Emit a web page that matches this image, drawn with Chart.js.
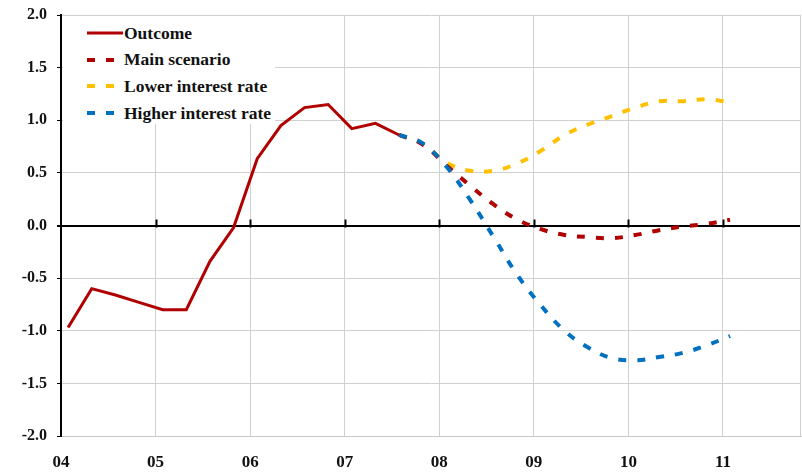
<!DOCTYPE html>
<html>
<head>
<meta charset="utf-8">
<script src="https://cdn.jsdelivr.net/npm/chart.js@4"></script>
<style>
  body { margin: 0; background: #fff; }
  #wrap { position: relative; width: 802px; height: 473px; }
  #legend {
    position: absolute; left: 63px; top: 16px; width: 212px; height: 108px;
    background: #fff; font: bold 17.5px "Liberation Serif", "Times New Roman", serif; color: #111;
  }
  #legend .item { position: absolute; left: 24px; height: 20px; display: flex; align-items: center; white-space: nowrap; }
  #legend svg { margin-right: 1px; }
</style>
</head>
<body>
<div id="wrap">
  <canvas id="chart" width="802" height="473"></canvas>
  <div id="legend"></div>
</div>
<script>
// quarterly data, 2004Q1 .. 2011Q1
const quarters = ['04Q1','04Q2','04Q3','04Q4','05Q1','05Q2','05Q3','05Q4','06Q1','06Q2','06Q3','06Q4',
  '07Q1','07Q2','07Q3','07Q4','08Q1','08Q2','08Q3','08Q4','09Q1','09Q2','09Q3','09Q4','10Q1','10Q2','10Q3','10Q4','11Q1'];
const yearLabels = ['04', '05', '06', '07', '08', '09', '10', '11'];
const yTicks = [-2.0, -1.5, -1.0, -0.5, 0.0, 0.5, 1.0, 1.5, 2.0];

const outcome = [-0.97, -0.60, -0.66, -0.73, -0.80, -0.80, -0.34, -0.02, 0.635, 0.95, 1.12, 1.15, 0.92, 0.97, 0.86];
// scenarios start at 07Q3 (index 14)
const forecastStart = 14;
const mainScenario = [0.86, 0.77, 0.57, 0.38, 0.20, 0.057, -0.035, -0.09, -0.11, -0.12, -0.09, -0.045, -0.01, 0.015, 0.055];
const lowerRate = [0.86, 0.78, 0.60, 0.52, 0.52, 0.59, 0.71, 0.86, 0.96, 1.04, 1.12, 1.18, 1.18, 1.20, 1.17];
const higherRate = [0.86, 0.78, 0.56, 0.245, -0.11, -0.47, -0.76, -1.00, -1.16, -1.26, -1.28, -1.25, -1.21, -1.14, -1.05];

const xShift = 0.3; // points sit a bit after the start of each quarter
const toPoints = (arr, start) => arr.map((v, i) => ({ x: start + i + xShift, y: v, q: quarters[start + i] }));

const dash = [8, 11];
const datasets = [
    { label: 'Outcome', data: toPoints(outcome, 0), borderColor: '#B00000', borderWidth: 3, order: 0 },
    { label: 'Main scenario', data: toPoints(mainScenario, forecastStart), borderColor: '#B00000', borderWidth: 4, borderDash: dash, tension: 0.4, order: 2 },
    { label: 'Lower interest rate', data: toPoints(lowerRate, forecastStart), borderColor: '#FFC000', borderWidth: 4, borderDash: dash, tension: 0.4, order: 3 },
    { label: 'Higher interest rate', data: toPoints(higherRate, forecastStart), borderColor: '#0070C0', borderWidth: 4, borderDash: dash, tension: 0.4, order: 1 }
];

// black tick marks on the zero line + right frame line
const extras = {
    id: 'extras',
    afterDatasetsDraw(chart) {
        const { ctx, scales } = chart;
        const y0 = scales.y.getPixelForValue(0);
        ctx.save();
        ctx.strokeStyle = '#000';
        ctx.lineWidth = 2;
        yearLabels.forEach((l, i) => {
            if (i === 0) return;
            const x = Math.round(scales.x.getPixelForValue(i * 4)) + 0.5;
            ctx.beginPath();
            ctx.moveTo(x, y0 - 6);
            ctx.lineTo(x, y0 + 2);
            ctx.stroke();
        });
        ctx.restore();
    },
    beforeDatasetsDraw(chart) {
        const { ctx, chartArea } = chart;
        ctx.save();
        ctx.strokeStyle = '#d0d0d0';
        ctx.lineWidth = 1;
        ctx.beginPath();
        ctx.moveTo(chartArea.right - 0.5, chartArea.top);
        ctx.lineTo(chartArea.right - 0.5, chartArea.bottom);
        ctx.stroke();
        ctx.restore();
    }
};

const serif = '"Liberation Serif", "Times New Roman", serif';

const chart = new Chart(document.getElementById('chart'), {
    type: 'line',
    data: { datasets },
    options: {
        responsive: false,
        animation: false,
        layout: { padding: { top: 15, right: 1, left: 0, bottom: 0 } },
        elements: { point: { radius: 0 }, line: { fill: false, borderCapStyle: 'butt' } },
        plugins: { legend: { display: false }, tooltip: { enabled: false } },
        scales: {
            x: {
                type: 'linear',
                min: 0,
                max: 31.3,
                afterBuildTicks: axis => { axis.ticks = yearLabels.map((l, i) => ({ value: i * 4 })); },
                afterFit: axis => { axis.height = 37; axis.paddingLeft = 0; axis.paddingRight = 0; },
                ticks: {
                    callback: v => yearLabels[v / 4],
                    font: { family: serif, size: 17, weight: 'bold' },
                    color: '#111',
                    padding: 16,
                    maxRotation: 0,
                    autoSkip: false
                },
                grid: { color: '#d0d0d0', drawTicks: false },
                border: { color: '#c8c8c8', width: 1 }
            },
            y: {
                min: -2,
                max: 2,
                afterBuildTicks: axis => { axis.ticks = yTicks.map(v => ({ value: v })); },
                afterFit: axis => { axis.width = 61; axis.paddingTop = 0; axis.paddingBottom = 0; },
                ticks: {
                    callback: v => v.toFixed(1),
                    font: { family: serif, size: 16, weight: 'bold' },
                    color: '#111',
                    padding: 10
                },
                grid: {
                    color: c => c.tick && c.tick.value === 0 ? '#000' : '#d0d0d0',
                    lineWidth: c => c.tick && c.tick.value === 0 ? 2 : 1,
                    tickColor: '#000',
                    tickLength: 4
                },
                border: { color: '#000', width: 2 }
            }
        }
    },
    plugins: [extras]
});

// legend drawn as html over the plot
const legend = document.getElementById('legend');
datasets.forEach((ds, i) => {
    const item = document.createElement('div');
    item.className = 'item';
    item.style.top = (7 + i * 26.7) + 'px';
    const d = ds.borderDash ? ds.borderDash.join(' ') : 'none';
    item.innerHTML = '<svg width="36" height="8"><line x1="0" y1="4" x2="36" y2="4" stroke="' + ds.borderColor +
        '" stroke-width="' + ds.borderWidth + '" stroke-dasharray="' + d + '"/></svg><span>' + ds.label + '</span>';
    legend.appendChild(item);
});
</script>
</body>
</html>
